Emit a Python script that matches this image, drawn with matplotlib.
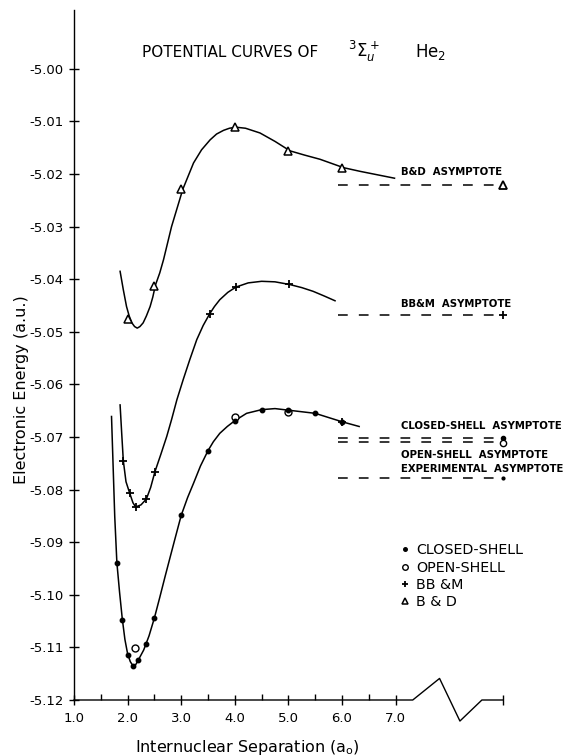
"""
Potential curves of the 3Sigma_u+ state of He2, redrawn from a scanned figure.
"""

import matplotlib
matplotlib.use('Agg')
import matplotlib.pyplot as plt
from matplotlib.ticker import FixedLocator, FixedFormatter

# separation (a0) used for "infinity" at the end of the broken axis
R_INF = 9.0
ASYM_START = 5.93

# computed points
closed_r = [1.8, 1.9, 2.0, 2.1, 2.2, 2.35, 2.5, 3.0, 3.5, 4.0, 4.5, 5.0, 5.5, 6.0]
closed_e = [-5.0939, -5.1048, -5.1114, -5.1135, -5.1124, -5.1094, -5.1044,
            -5.0849, -5.0726, -5.0669, -5.0648, -5.0649, -5.0655, -5.0671]
open_r = [2.13, 4.0, 5.0]
open_e = [-5.1101, -5.0662, -5.0653]
bbm_r = [1.92, 2.04, 2.15, 2.35, 2.51, 3.53, 4.02, 5.02, 6.0]
bbm_e = [-5.0745, -5.0807, -5.0833, -5.0818, -5.0766, -5.0466, -5.0415,
         -5.0410, -5.0671]
bd_r = [2.0, 2.5, 3.0, 4.0, 5.0, 6.0]
bd_e = [-5.0475, -5.0412, -5.0229, -5.0111, -5.0156, -5.0188]

# hand drawn curves
closed_curve_r = [1.70, 1.73, 1.76, 1.80, 1.85, 1.90, 1.95, 2.00, 2.05, 2.10,
                  2.15, 2.20, 2.30, 2.40, 2.50, 2.60, 2.70, 2.80, 2.88, 3.00,
                  3.12, 3.23, 3.36, 3.50, 3.60, 3.72, 3.86, 4.00, 4.22, 4.50,
                  4.75, 5.00, 5.50, 6.00, 6.32]
closed_curve_e = [-5.0661, -5.0756, -5.0851, -5.0939, -5.0995, -5.1045,
                  -5.1085, -5.1112, -5.1127, -5.1135, -5.1133, -5.1124,
                  -5.1105, -5.1078, -5.1044, -5.1005, -5.0965, -5.0926,
                  -5.0895, -5.0849, -5.0815, -5.0788, -5.0755, -5.0726,
                  -5.0709, -5.0693, -5.0680, -5.0669, -5.0655, -5.0648,
                  -5.0646, -5.0649, -5.0655, -5.0671, -5.0680]
bbm_curve_r = [1.86, 1.89, 1.92, 1.97, 2.04, 2.10, 2.15, 2.25, 2.35, 2.43,
               2.51, 2.62, 2.73, 2.82, 2.92, 3.04, 3.16, 3.29, 3.41, 3.53,
               3.62, 3.72, 3.87, 4.02, 4.25, 4.50, 4.75, 5.02, 5.25, 5.46,
               5.67, 5.87]
bbm_curve_e = [-5.0639, -5.0693, -5.0745, -5.0785, -5.0807, -5.0825, -5.0833,
               -5.0829, -5.0818, -5.0796, -5.0766, -5.0733, -5.0699, -5.0667,
               -5.0629, -5.0590, -5.0553, -5.0515, -5.0488, -5.0466, -5.0452,
               -5.0439, -5.0425, -5.0415, -5.0407, -5.0404, -5.0405, -5.0410,
               -5.0416, -5.0423, -5.0432, -5.0441]
bd_curve_r = [1.86, 1.92, 1.98, 2.03, 2.08, 2.13, 2.18, 2.23, 2.29, 2.35,
              2.42, 2.47, 2.52, 2.60, 2.67, 2.82, 3.03, 3.23, 3.38, 3.54,
              3.66, 3.79, 3.90, 4.02, 4.20, 4.47, 4.75, 5.03, 5.30, 5.59,
              6.03, 6.34, 6.98]
bd_curve_e = [-5.0385, -5.0420, -5.0452, -5.0470, -5.0483, -5.0490, -5.0493,
              -5.0490, -5.0483, -5.0470, -5.0452, -5.0434, -5.0411, -5.0388,
              -5.0363, -5.0300, -5.0229, -5.0179, -5.0154, -5.0135, -5.0124,
              -5.0117, -5.0113, -5.0111, -5.0113, -5.0122, -5.0138, -5.0156,
              -5.0164, -5.0172, -5.0188, -5.0195, -5.0208]

# asymptotes
bd_asym = -5.0220
bbm_asym = -5.0468
closed_asym = -5.0702
open_asym = -5.0709
expt_asym = -5.0778

# axes
x_major = [1.0, 2.0, 3.0, 4.0, 5.0, 6.0, 7.0, R_INF]
x_labels = ['1.0', '2.0', '3.0', '4.0', '5.0', '6.0', '7.0', '']
x_minor = [1.5, 2.5, 3.5, 4.5, 5.5, 6.5]
y_major = [-5.00, -5.01, -5.02, -5.03, -5.04, -5.05, -5.06, -5.07, -5.08,
           -5.09, -5.10, -5.11, -5.12]
y_labels = ['-5.00', '-5.01', '-5.02', '-5.03', '-5.04', '-5.05', '-5.06',
            '-5.07', '-5.08', '-5.09', '-5.10', '-5.11', '-5.12']
# broken x axis between 7.0 and infinity
break_r = [1.0, 7.32, 7.82, 8.20, 8.61, R_INF]
break_e = [-5.12, -5.12, -5.1159, -5.1240, -5.12, -5.12]

INK = 'black'
DASH = (0, (7, 8))


def draw_axes(ax):
    ax.set_xlim(1.0, 10.0)
    ax.set_ylim(-5.12, -4.98882)
    for side in ['top', 'right', 'bottom']:
        ax.spines[side].set_visible(False)
    ax.spines['left'].set_linewidth(1.0)
    ax.plot(break_r, break_e, color=INK, lw=1.0, clip_on=False)
    ax.xaxis.set_major_locator(FixedLocator(x_major))
    ax.xaxis.set_major_formatter(FixedFormatter(x_labels))
    ax.xaxis.set_minor_locator(FixedLocator(x_minor))
    ax.yaxis.set_major_locator(FixedLocator(y_major))
    ax.yaxis.set_major_formatter(FixedFormatter(y_labels))
    ax.tick_params(axis='x', which='major', direction='inout', length=7,
                   width=1.0, labelsize=9.5, pad=5)
    ax.tick_params(axis='x', which='minor', direction='in', length=4,
                   width=1.0)
    ax.tick_params(axis='y', which='major', direction='inout', length=7,
                   width=1.0, labelsize=9.5, pad=4)


def draw_curves(ax):
    for r, e in [(closed_curve_r, closed_curve_e),
                 (bbm_curve_r, bbm_curve_e),
                 (bd_curve_r, bd_curve_e)]:
        ax.plot(r, e, color=INK, lw=1.1, solid_joinstyle='round')


def draw_points(ax):
    h_closed, = ax.plot(closed_r, closed_e, 'o', ms=3.2, color=INK, zorder=4)
    h_open, = ax.plot(open_r, open_e, 'o', ms=5, mfc='white', mec=INK,
                      mew=1.0, zorder=3)
    h_bbm, = ax.plot(bbm_r, bbm_e, '+', ms=6, mew=1.3, color=INK, zorder=4)
    h_bd, = ax.plot(bd_r, bd_e, '^', ms=6, mfc='white', mec=INK, mew=1.1,
                    zorder=4)
    return [h_closed, h_open, h_bbm, h_bd]


def draw_asymptotes(ax):
    for e in [bd_asym, bbm_asym, closed_asym, open_asym, expt_asym]:
        ax.plot([ASYM_START, R_INF - 0.1], [e, e], color=INK, lw=1.1,
                ls=DASH)
    ax.plot([R_INF], [bd_asym], '^', ms=6, mfc='white', mec=INK, mew=1.3)
    ax.plot([R_INF], [bbm_asym], '+', ms=6, mew=1.3, color=INK)
    ax.plot([R_INF], [closed_asym], 'o', ms=3, color=INK)
    ax.plot([R_INF], [open_asym - 0.0002], 'o', ms=4.5, mfc='white',
            mec=INK, mew=1.0)
    ax.plot([R_INF], [expt_asym], 'o', ms=2, color=INK)
    kw = dict(fontsize=7.3, fontweight='bold', va='center', ha='left')
    ax.text(7.10, -5.0197, 'B&D  ASYMPTOTE', **kw)
    ax.text(7.10, -5.0447, 'BB&M  ASYMPTOTE', **kw)
    ax.text(7.10, -5.0680, 'CLOSED-SHELL  ASYMPTOTE', **kw)
    ax.text(7.10, -5.0734, 'OPEN-SHELL  ASYMPTOTE', **kw)
    ax.text(7.10, -5.0761, 'EXPERIMENTAL  ASYMPTOTE', **kw)


def main():
    plt.rcParams['font.family'] = ['DejaVu Sans']
    plt.rcParams['lines.scale_dashes'] = False
    fig = plt.figure(figsize=(5.69, 7.56), dpi=100)
    ax = fig.add_axes([74 / 569, 56 / 756, 482.4 / 569, 690 / 756])
    ax.patch.set_visible(False)
    draw_axes(ax)
    draw_curves(ax)
    handles = draw_points(ax)
    draw_asymptotes(ax)

    fig.legend(handles, ['CLOSED-SHELL', 'OPEN-SHELL', 'BB &M', 'B & D'],
               loc='upper left', bbox_to_anchor=(397.8 / 569, 1 - 543.3 / 756),
               frameon=False, fontsize=10.3, handlelength=1.0,
               handletextpad=0.27, labelspacing=0.23, borderpad=0,
               borderaxespad=0, markerscale=0.8)

    base = 1 - 57.3 / 756
    fig.text(141.7 / 569, base, 'POTENTIAL CURVES OF', fontsize=11,
             va='baseline')
    fig.text(348 / 569, base, r'$^3\Sigma_u^+$', fontsize=12, va='baseline')
    fig.text(415 / 569, base, r'He$_2$', fontsize=12, va='baseline')
    fig.text(22 / 569, 1 - 390 / 756, 'Electronic Energy (a.u.)',
             rotation=90, ha='center', va='center', fontsize=11.5)
    fig.text(247 / 569, 1 - 752 / 756, r'Internuclear Separation (a$_\mathrm{o}$)',
             ha='center', va='baseline', fontsize=11.5)
    fig.savefig('out.png', dpi=100)
    plt.close('all')


if __name__ == '__main__':
    main()
